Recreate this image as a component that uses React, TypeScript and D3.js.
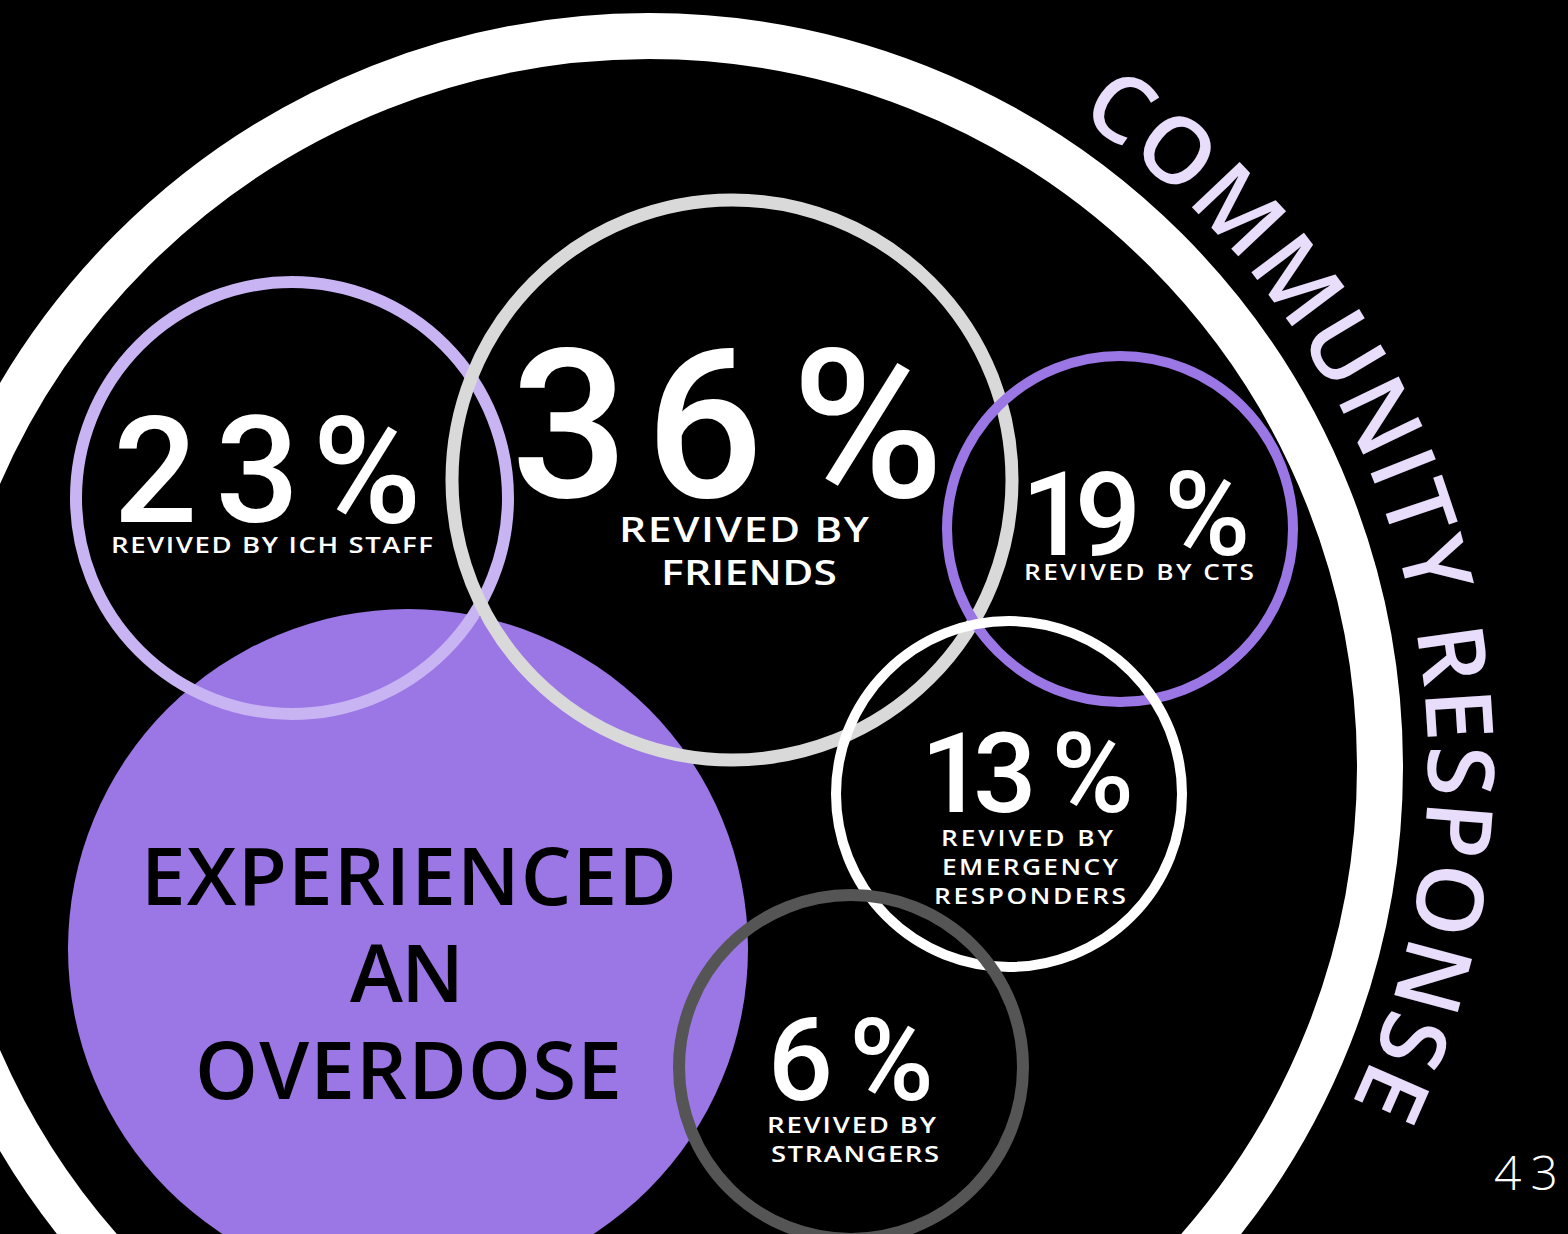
import React from "react";
import * as d3 from "d3";

const W = 1568;
const H = 1234;

// ---- data ----
const percentValues = [23, 36, 19, 13, 6];
const revivedLabels = [
  ["REVIVED BY ICH STAFF"],
  ["REVIVED BY", "FRIENDS"],
  ["REVIVED BY CTS"],
  ["REVIVED BY", "EMERGENCY", "RESPONDERS"],
  ["REVIVED BY", "STRANGERS"],
];
const centerLabel = ["EXPERIENCED", "AN", "OVERDOSE"];
const ringTitle = "COMMUNITY RESPONSE";
const pageNumber = "43";

// ---- layout / styles ----
const circleColors = ["#c8b3f3", "#d9d9d9", "#9b77e6", "#ffffff", "#555555"];
const circleLayout = [
  { cx: 292, cy: 498, r: 216, sw: 12 },
  { cx: 732, cy: 480, r: 280, sw: 13 },
  { cx: 1120, cy: 529, r: 173, sw: 10 },
  { cx: 1009, cy: 794, r: 173, sw: 10 },
  { cx: 851, cy: 1067, r: 172, sw: 12 },
];
// left ink edge of each glyph of the number
const numberLayout = [
  { y: 522, size: 148, gx: [120, 222, 320] },
  { y: 497, size: 207, gx: [520, 655, 802] },
  { y: 555, size: 117, gx: [1033, 1080, 1170] },
  { y: 812, size: 112, gx: [932, 978, 1057] },
  { y: 1100, size: 115, gx: [773, 855] },
];
const labelLayout = [
  { size: 22, lines: [{ x: 111, y: 553, w: 322 }] },
  { size: 34, lines: [{ x: 619, y: 542, w: 250 }, { x: 661, y: 585, w: 176 }] },
  { size: 21, lines: [{ x: 1024, y: 580, w: 230 }] },
  {
    size: 21,
    lines: [
      { x: 941, y: 846, w: 172 },
      { x: 942, y: 875, w: 176 },
      { x: 934, y: 904, w: 192 },
    ],
  },
  { size: 22, lines: [{ x: 767, y: 1133, w: 169 }, { x: 771, y: 1162, w: 168 }] },
];
const fillCircle = { cx: 408, cy: 949, r: 340, color: "#9b77e6" };
const centerLabelLayout = [
  { x: 141, y: 905, w: 536 },
  { x: 350, y: 1002, w: 114 },
  { x: 195, y: 1099, w: 427 },
];
const ring = { cx: 649, cy: 767, r: 731, w: 46 };

const FONT = "'Open Sans', 'Noto Sans', sans-serif";
const NUM_FONT = "Roboto, 'Open Sans', sans-serif";
const bearing: Record<string, number> = { "1": 0.1, "%": 0.05 };

function StretchText({ x, y, w, size, weight, fill, sx, children }: any) {
  return (
    <text
      transform={`translate(${x},${y}) scale(${sx},1)`}
      fontSize={size}
      fontWeight={weight}
      fill={fill}
      textLength={w / sx}
      lengthAdjust="spacing"
    >
      {children}
    </text>
  );
}

export default function App() {
  const rText = 779;
  const deg = Math.PI / 180;
  const a0 = 33.4 * deg;
  const a1 = 115.6 * deg;
  const aEnd = 130 * deg;
  const p = d3.path();
  p.moveTo(ring.cx + rText * Math.sin(a0), ring.cy - rText * Math.cos(a0));
  p.arc(ring.cx, ring.cy, rText, a0 - Math.PI / 2, aEnd - Math.PI / 2, false);
  const arcLen = (a1 - a0) * rText;

  return (
    <svg
      width={W}
      height={H}
      style={{ position: "absolute", left: 0, top: 0, display: "block" }}
      fontFamily={FONT}
    >
      <rect x={0} y={0} width={W} height={H} fill="#000" />
      <circle cx={ring.cx} cy={ring.cy} r={ring.r} fill="none" stroke="#fff" strokeWidth={ring.w} />
      <path id="titleArc" d={p.toString()} fill="none" />
      <text fontSize={92} fontWeight={600} fill="#e8defc">
        <textPath href="#titleArc" textLength={arcLen} lengthAdjust="spacing">
          {ringTitle}
        </textPath>
      </text>

      <circle cx={fillCircle.cx} cy={fillCircle.cy} r={fillCircle.r} fill={fillCircle.color} />
      {centerLabel.map((t, i) => (
        <StretchText
          key={t}
          x={centerLabelLayout[i].x}
          y={centerLabelLayout[i].y}
          w={centerLabelLayout[i].w}
          size={80}
          weight={600}
          fill="#000"
          sx={1}
        >
          {t}
        </StretchText>
      ))}

      {percentValues.map((v, i) => (
        <circle
          key={"c" + i}
          cx={circleLayout[i].cx}
          cy={circleLayout[i].cy}
          r={circleLayout[i].r}
          fill="none"
          stroke={circleColors[i]}
          strokeWidth={circleLayout[i].sw}
        />
      ))}

      {percentValues.map((v, i) => {
        const n = numberLayout[i];
        const chars = `${v}%`.split("");
        const xs = chars
          .map((c, k) => (n.gx[k] - (bearing[c] ?? 0.045) * n.size).toFixed(1))
          .join(" ");
        return (
          <g key={"t" + i}>
            <text x={xs} y={n.y} fontSize={n.size} fontWeight={500} fill="#fff" fontFamily={NUM_FONT}>
              {`${v}%`}
            </text>
            {revivedLabels[i].map((line, j) => (
              <StretchText
                key={j}
                x={labelLayout[i].lines[j].x}
                y={labelLayout[i].lines[j].y}
                w={labelLayout[i].lines[j].w}
                size={labelLayout[i].size}
                weight={600}
                fill="#fff"
                sx={1.25}
              >
                {line}
              </StretchText>
            ))}
          </g>
        );
      })}

      <text x={1494} y={1190} fontSize={48} fontWeight={300} fill="#fff" textLength={64} lengthAdjust="spacing">
        {pageNumber}
      </text>
    </svg>
  );
}
